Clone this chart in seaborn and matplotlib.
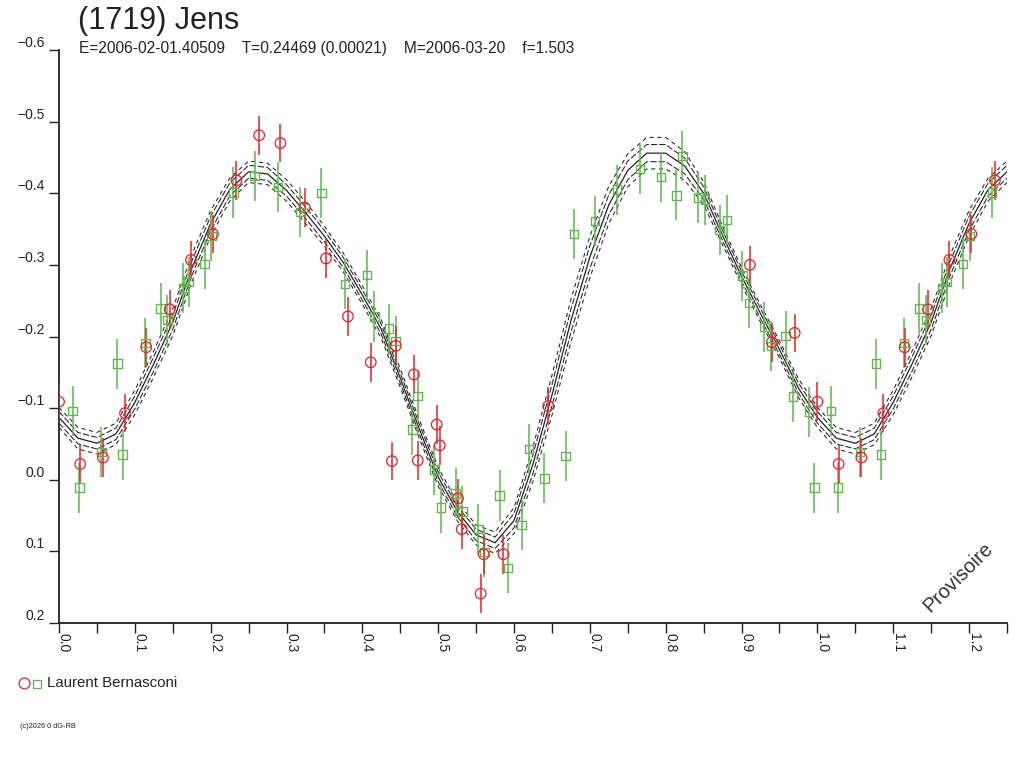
import numpy as np
import pandas as pd
import matplotlib
matplotlib.use("Agg")
import matplotlib.pyplot as plt
import matplotlib.transforms as mtransforms
from matplotlib.lines import Line2D
import seaborn as sns

# ---------------- data ----------------
red_phase = [0.000, 0.028, 0.058, 0.087, 0.115, 0.146, 0.174, 0.203, 0.234, 0.264,
             0.292, 0.324, 0.352, 0.381, 0.411, 0.439, 0.444, 0.468, 0.473, 0.498,
             0.502, 0.526, 0.531, 0.556, 0.560, 0.586, 0.645, 0.911, 0.940, 0.970]
red_mag = [-0.109, -0.022, -0.031, -0.093, -0.185, -0.238, -0.307, -0.343, -0.418, -0.481,
           -0.470, -0.380, -0.309, -0.228, -0.164, -0.026, -0.187, -0.147, -0.027, -0.077,
           -0.048, 0.026, 0.069, 0.159, 0.104, 0.104, -0.103, -0.300, -0.192, -0.205]
red_err = [0.027, 0.027, 0.027, 0.027, 0.027, 0.027, 0.027, 0.027, 0.027, 0.027,
           0.027, 0.027, 0.027, 0.027, 0.027, 0.027, 0.027, 0.027, 0.027, 0.027,
           0.027, 0.027, 0.027, 0.027, 0.027, 0.027, 0.027, 0.027, 0.027, 0.027]

green_phase = [0.018, 0.027, 0.056, 0.084, 0.077, 0.114, 0.134, 0.143, 0.164, 0.171,
               0.192, 0.201, 0.230, 0.258, 0.289, 0.318, 0.346, 0.377, 0.406, 0.416,
               0.435, 0.444, 0.466, 0.473, 0.495, 0.504, 0.523, 0.532, 0.553, 0.561,
               0.581, 0.592, 0.610, 0.620, 0.640, 0.668, 0.679, 0.707, 0.736, 0.766,
               0.794, 0.814, 0.822, 0.843, 0.852, 0.871, 0.881, 0.901, 0.910, 0.930,
               0.939, 0.958, 0.968, 0.989, 0.996]
green_mag = [-0.096, 0.011, -0.039, -0.035, -0.162, -0.191, -0.239, -0.223, -0.268, -0.276,
             -0.301, -0.340, -0.401, -0.424, -0.409, -0.374, -0.400, -0.273, -0.286, -0.228,
             -0.211, -0.194, -0.070, -0.117, -0.014, 0.039, 0.019, 0.044, 0.069, 0.101,
             0.022, 0.123, 0.063, -0.043, -0.002, -0.033, -0.343, -0.361, -0.405, -0.434,
             -0.423, -0.397, -0.452, -0.394, -0.391, -0.349, -0.363, -0.285, -0.247, -0.213,
             -0.187, -0.201, -0.116, -0.095, 0.011]
green_err = [0.035, 0.035, 0.035, 0.035, 0.035, 0.035, 0.035, 0.035, 0.035, 0.035,
             0.035, 0.035, 0.035, 0.035, 0.035, 0.035, 0.035, 0.035, 0.035, 0.035,
             0.035, 0.035, 0.035, 0.035, 0.035, 0.035, 0.035, 0.035, 0.035, 0.035,
             0.035, 0.035, 0.035, 0.035, 0.035, 0.035, 0.035, 0.035, 0.035, 0.035,
             0.035, 0.035, 0.035, 0.035, 0.035, 0.035, 0.035, 0.035, 0.035, 0.035,
             0.035, 0.035, 0.035, 0.035, 0.035]

# fitted lightcurve and its uncertainty envelopes
curve_phase = [0.000, 0.025, 0.050, 0.075, 0.100, 0.125, 0.150, 0.175, 0.200, 0.225,
               0.250, 0.275, 0.300, 0.325, 0.350, 0.375, 0.400, 0.425, 0.450, 0.475,
               0.500, 0.525, 0.550, 0.575, 0.600, 0.625, 0.650, 0.675, 0.700, 0.725,
               0.750, 0.775, 0.800, 0.825, 0.850, 0.875, 0.900, 0.925, 0.950, 0.975]
curve_mag = [-0.087, -0.058, -0.051, -0.064, -0.108, -0.162, -0.220, -0.295, -0.358, -0.405,
             -0.430, -0.427, -0.404, -0.373, -0.340, -0.303, -0.258, -0.210, -0.142, -0.071,
             -0.004, 0.044, 0.077, 0.088, 0.057, -0.022, -0.118, -0.222, -0.311, -0.384,
             -0.432, -0.456, -0.456, -0.438, -0.400, -0.341, -0.284, -0.232, -0.182, -0.128]
inner_hw = [0.008, 0.008, 0.008, 0.008, 0.009, 0.010, 0.010, 0.010, 0.010, 0.009,
            0.009, 0.009, 0.008, 0.008, 0.008, 0.007, 0.007, 0.007, 0.007, 0.007,
            0.007, 0.007, 0.008, 0.008, 0.010, 0.013, 0.015, 0.016, 0.016, 0.014,
            0.013, 0.012, 0.012, 0.011, 0.009, 0.007, 0.007, 0.007, 0.007, 0.007]
outer_hw = [0.014, 0.015, 0.015, 0.015, 0.017, 0.018, 0.019, 0.019, 0.018, 0.016,
            0.015, 0.015, 0.015, 0.015, 0.014, 0.013, 0.013, 0.013, 0.013, 0.013,
            0.013, 0.013, 0.014, 0.015, 0.018, 0.024, 0.028, 0.030, 0.029, 0.026,
            0.023, 0.022, 0.022, 0.020, 0.016, 0.013, 0.012, 0.012, 0.012, 0.013]

x_ticks = [0.0, 0.1, 0.2, 0.3, 0.4, 0.5, 0.6, 0.7, 0.8, 0.9, 1.0, 1.1, 1.2]
x_tick_labels = ["0.0", "0.1", "0.2", "0.3", "0.4", "0.5", "0.6", "0.7", "0.8", "0.9",
                 "1.0", "1.1", "1.2"]
x_minor = [0.05, 0.15, 0.25, 0.35, 0.45, 0.55, 0.65, 0.75, 0.85, 0.95, 1.05, 1.15, 1.25]
y_ticks = [-0.6, -0.5, -0.4, -0.3, -0.2, -0.1, 0.0, 0.1, 0.2]
y_tick_labels = ["\u22120.6", "\u22120.5", "\u22120.4", "\u22120.3", "\u22120.2",
                 "\u22120.1", "0.0", "0.1", "0.2"]

title = "(1719) Jens"
subtitle = "E=2006-02-01.40509    T=0.24469 (0.00021)    M=2006-03-20    f=1.503"
observer = "Laurent Bernasconi"
stamp = "Provisoire"
copyright_txt = "(c)2026 0 dG-RB"

RED = "#e8202a"
GREEN = "#5cb84a"
INK = "#222222"

# phase-folded display: points with phase <= 0.25 repeated one cycle later
def folded(ph, vals, limit=0.25):
    ext_p = list(ph) + [p + 1.0 for p in ph if p <= limit]
    ext_v = list(vals) + [v for p, v in zip(ph, vals) if p <= limit]
    return ext_p, ext_v

rp, rm = folded(red_phase, red_mag)
_, re_ = folded(red_phase, red_err)
gp, gm = folded(green_phase, green_mag)
_, ge = folded(green_phase, green_err)
fx, fy = folded(curve_phase, curve_mag)
_, fin = folded(curve_phase, inner_hw)
_, fout = folded(curve_phase, outer_hw)

df_red = pd.DataFrame({"phase": rp, "mag": rm, "err": re_})
df_green = pd.DataFrame({"phase": gp, "mag": gm, "err": ge})

# ---------------- figure ----------------
sns.set_theme(style="white")
plt.rcParams["font.family"] = ["Liberation Sans", "DejaVu Sans"]
plt.rcParams["axes.unicode_minus"] = True

fig = plt.figure(figsize=(10.24, 7.68), dpi=100, facecolor="white")
ax = fig.add_axes([59 / 1024, 1 - 623 / 768, (1007 - 59) / 1024, (623 - 50) / 768])
ax.set_facecolor("white")

# fit curve and envelopes
sns.lineplot(x=fx, y=fy, ax=ax, color=INK, lw=0.9, estimator=None, sort=False, zorder=2)
for hw, style in [(fin, (0, (6, 2.0))), (fout, (0, (4, 3.5)))]:
    for sgn in (-1, 1):
        yb = [m + sgn * h for m, h in zip(fy, hw)]
        sns.lineplot(x=fx, y=yb, ax=ax, color=INK, lw=0.75, linestyle=style,
                     estimator=None, sort=False, zorder=2)

# error bars
ax.errorbar(df_green["phase"], df_green["mag"], yerr=df_green["err"], fmt="none",
            ecolor=GREEN, elinewidth=1.1, capsize=0, zorder=3)
ax.errorbar(df_red["phase"], df_red["mag"], yerr=df_red["err"], fmt="none",
            ecolor=RED, elinewidth=1.1, capsize=0, zorder=3)

# markers
sns.scatterplot(data=df_green, x="phase", y="mag", ax=ax, marker="s", s=6.1 ** 2,
                facecolor="none", edgecolor=GREEN, linewidth=0.95, zorder=4)
sns.scatterplot(data=df_red, x="phase", y="mag", ax=ax, marker="o", s=7.6 ** 2,
                facecolor="none", edgecolor=RED, linewidth=0.9, zorder=5)

ax.set_xlabel("")
ax.set_ylabel("")
ax.set_xlim(0.0, 1.25)
ax.set_ylim(0.2, -0.6)

ax.set_xticks(x_ticks)
ax.set_xticks(x_minor, minor=True)
ax.set_xticklabels(x_tick_labels, rotation=-90, ha="left", va="top", fontsize=10,
                   color=INK)
ax.set_yticks(y_ticks)
ax.set_yticklabels(y_tick_labels, va="bottom", fontsize=10, color=INK)

ax.tick_params(axis="x", which="both", bottom=True, direction="out", length=7,
               width=1.0, color=INK, pad=0.3)
ax.tick_params(axis="y", which="both", left=True, direction="out", length=7.5,
               width=1.0, color=INK, pad=2.8)

shift = mtransforms.ScaledTranslation(-2.5 / 100, 0, fig.dpi_scale_trans)
for lab in ax.get_xticklabels():
    lab.set_transform(lab.get_transform() + shift)

for side in ("top", "right"):
    ax.spines[side].set_visible(False)
for side in ("left", "bottom"):
    ax.spines[side].set_color(INK)
    ax.spines[side].set_linewidth(1.3)
ax.grid(False)

# texts
fig.text(78 / 1024, 1 - 29.5 / 768, title, fontsize=22, ha="left", va="baseline",
         color=INK)
fig.text(79 / 1024, 1 - 53.3 / 768, subtitle, fontsize=11.2, ha="left", va="baseline",
         color=INK)
ax.text(958 / 1024, 1 - 577 / 768, stamp, transform=fig.transFigure, rotation=45,
        fontsize=14.5, ha="center", va="center", color="#333333")

# observer legend
fig.add_artist(Line2D([24 / 1024], [1 - 683 / 768], transform=fig.transFigure,
                      marker="o", ms=7.8, mfc="none", mec=RED, mew=0.9, ls="none"))
fig.add_artist(Line2D([36.6 / 1024], [1 - 684 / 768], transform=fig.transFigure,
                      marker="s", ms=5.8, mfc="none", mec=GREEN, mew=0.9, ls="none"))
fig.text(47 / 1024, 1 - 683 / 768, observer, fontsize=10.8, ha="left", va="center",
         color=INK)
fig.text(20 / 1024, 1 - 726 / 768, copyright_txt, fontsize=5.3, ha="left",
         va="center", color=INK)

fig.savefig("out.png", dpi=100, facecolor="white")
